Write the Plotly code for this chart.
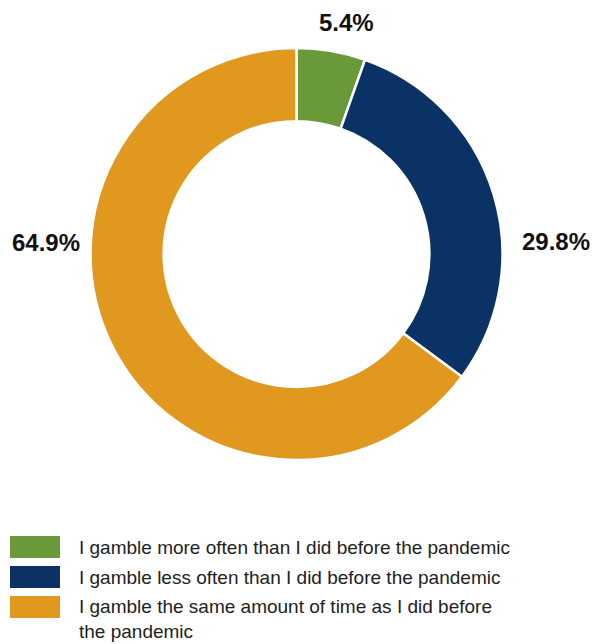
import plotly.graph_objects as go

categories = [
    "I gamble more often than I did before the pandemic",
    "I gamble less often than I did before the pandemic",
    "I gamble the same amount of time as I did before the pandemic",
]
legend_labels = [
    "I gamble more often than I did before the pandemic",
    "I gamble less often than I did before the pandemic",
    "I gamble the same amount of time as I did before<br>the pandemic",
]
values = [5.4, 29.8, 64.9]
colors = ["#699939", "#0b3264", "#e0981e"]

W, H = 593, 644

def px(x):
    return x / W

def py(y):
    return 1 - y / H

fig = go.Figure()
fig.add_trace(go.Pie(
    labels=categories,
    values=values,
    hole=0.645,
    sort=False,
    direction="clockwise",
    rotation=0,
    marker=dict(colors=colors, line=dict(color="white", width=2.5)),
    textinfo="none",
    hoverinfo="label+value",
    showlegend=False,
    domain=dict(x=[0, 1], y=[py(460), py(48)]),
))

# value labels
label_pos = [(347, 22), (556, 241), (46, 242)]
annotations = []
for v, (x, y) in zip(values, label_pos):
    annotations.append(dict(
        x=px(x), y=py(y), xref="paper", yref="paper",
        text=f"<b>{v:.1f}%</b>", showarrow=False,
        xanchor="center", yanchor="middle",
        font=dict(family="Liberation Sans, Arial, sans-serif", size=24, color="#111111"),
    ))

# legend
shapes = []
row_y = [547, 577, 607]
for lab, c, y in zip(legend_labels, colors, row_y):
    shapes.append(dict(type="rect", xref="paper", yref="paper",
                       x0=px(10), x1=px(60), y0=py(y - 11), y1=py(y + 11),
                       fillcolor=c, line=dict(width=0)))
    multi = "<br>" in lab
    annotations.append(dict(
        x=px(77), y=py(y - 13) if multi else py(y), xref="paper", yref="paper",
        text=lab, showarrow=False, align="left",
        xanchor="left", yanchor="top" if multi else "middle",
        font=dict(family="Liberation Sans, Arial, sans-serif", size=19, color="#222222"),
    ))

fig.update_layout(
    width=W, height=H,
    margin=dict(l=0, r=0, t=0, b=0),
    paper_bgcolor="white", plot_bgcolor="white",
    annotations=annotations, shapes=shapes,
)
fig.write_html("out.html")
